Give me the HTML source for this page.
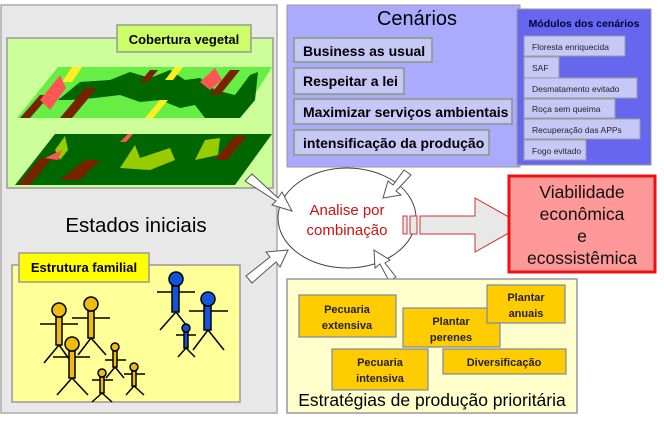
<!DOCTYPE html>
<html><head><meta charset="utf-8"><style>
body{margin:0;width:664px;height:417px;background:#fff;overflow:hidden;font-family:"Liberation Sans",sans-serif;}
</style></head><body>
<svg width="664" height="417" viewBox="0 0 664 417" xmlns="http://www.w3.org/2000/svg" font-family="Liberation Sans, sans-serif">
<rect x="1" y="5" width="276" height="408" fill="#e8e8e8" stroke="#aaa" stroke-width="1.5"/>
<rect x="7" y="38" width="266" height="150" fill="#ccff99" stroke="#999" stroke-width="1.5"/>
<polygon points="17,118 58,67 272,67 240,118" fill="#66ee44"/>
<path d="M58,100 L80,82 L110,80 L130,72 L150,78 L170,70 L185,80 L200,78 L215,90 L235,95 L250,75 L258,72 L255,100 L240,118 L205,118 L195,105 L180,108 L160,100 L140,102 L120,95 L95,98 L70,100 Z" fill="#006600"/>
<polygon points="20,118 40,95 50,95 30,118" fill="#772200"/>
<polygon points="60,118 85,88 97,88 72,118" fill="#772200"/>
<polygon points="140,82 150,70 158,70 148,82" fill="#772200"/>
<polygon points="210,95 230,70 240,70 220,95" fill="#772200"/>
<polygon points="62,82 72,67 82,67 72,82" fill="#ffee22"/>
<polygon points="145,118 160,100 168,100 153,118" fill="#ffee22"/>
<polygon points="165,80 175,67 183,67 173,80" fill="#ffee22"/>
<polygon points="40,100 60,75 66,88 50,110" fill="#ff5555"/>
<polygon points="200,82 215,68 222,80 210,90" fill="#ff5555"/>
<polygon points="15,185 55,134 272,134 235,185" fill="#006600"/>
<path d="M120,168 L135,145 L140,158 L170,148 L175,160 L150,170 Z" fill="#99cc00"/>
<path d="M55,150 L65,136 L68,150 L60,160 Z" fill="#99cc00"/>
<path d="M195,160 L205,140 L220,138 L218,155 Z" fill="#99cc00"/>
<polygon points="18,185 40,158 52,158 30,185" fill="#772200"/>
<polygon points="60,180 85,160 100,160 80,180" fill="#772200"/>
<polygon points="215,160 235,136 247,136 227,160" fill="#772200"/>
<polygon points="45,158 62,150 58,160" fill="#ff5555"/>
<polygon points="120,142 128,134 133,134 126,142" fill="#ff5555"/>
<rect x="117" y="25" width="134" height="27" fill="#ccff66" stroke="#999" stroke-width="1.5"/>
<text x="184" y="44" font-size="13" font-weight="bold" text-anchor="middle">Cobertura vegetal</text>
<text x="136" y="232" font-size="20.5" text-anchor="middle">Estados iniciais</text>
<rect x="12" y="265" width="228" height="137" fill="#ffff99" stroke="#999" stroke-width="1.5"/>
<rect x="19" y="253" width="130" height="29" fill="#ffff00" stroke="#999" stroke-width="1.5"/>
<text x="84" y="272" font-size="13" font-weight="bold" text-anchor="middle">Estrutura familial</text>
<g stroke="#000" stroke-width="1.5">
<g fill="#eebb11">
<line x1="59" y1="345" x2="44" y2="363"/><line x1="59" y1="345" x2="72" y2="363"/><line x1="40" y1="324" x2="78" y2="324"/><rect x="56" y="317" width="6" height="28"/><circle cx="59" cy="310" r="7"/>
<line x1="91" y1="338" x2="78" y2="355"/><line x1="91" y1="338" x2="106" y2="355"/><line x1="72" y1="318" x2="110" y2="318"/><rect x="88" y="311" width="6" height="27"/><circle cx="91" cy="304" r="7"/>
<line x1="72" y1="378" x2="57" y2="395"/><line x1="72" y1="378" x2="88" y2="395"/><line x1="53" y1="357" x2="90" y2="357"/><rect x="69" y="351" width="6" height="27"/><circle cx="72" cy="344" r="7"/>
<line x1="115" y1="367" x2="106" y2="378"/><line x1="115" y1="367" x2="124" y2="378"/><line x1="105" y1="360" x2="126" y2="360"/><rect x="113" y="351" width="4" height="16"/><circle cx="115" cy="347" r="4"/>
<line x1="102" y1="393" x2="92" y2="402"/><line x1="102" y1="393" x2="112" y2="402"/><line x1="92" y1="380" x2="113" y2="380"/><rect x="100" y="377" width="4" height="16"/><circle cx="102" cy="373" r="4"/>
<line x1="134" y1="386" x2="126" y2="395"/><line x1="134" y1="386" x2="144" y2="395"/><line x1="124" y1="374" x2="145" y2="374"/><rect x="132" y="371" width="4" height="15"/><circle cx="134" cy="367" r="4"/>
</g>
<g fill="#1155dd">
<line x1="176" y1="312" x2="160" y2="330"/><line x1="176" y1="312" x2="190" y2="330"/><line x1="157" y1="292" x2="195" y2="292"/><rect x="172" y="286" width="7" height="26"/><circle cx="176" cy="279" r="7"/>
<line x1="208" y1="330" x2="193" y2="350"/><line x1="208" y1="330" x2="224" y2="350"/><line x1="189" y1="311" x2="228" y2="311"/><rect x="204" y="306" width="7" height="24"/><circle cx="208" cy="299" r="7"/>
<line x1="186" y1="348" x2="178" y2="357"/><line x1="186" y1="348" x2="195" y2="357"/><line x1="176" y1="335" x2="196" y2="335"/><rect x="184" y="332" width="4" height="16"/><circle cx="186" cy="328" r="4"/>
</g></g>
<rect x="287" y="5" width="233" height="162" fill="#aaaaff" stroke="#999" stroke-width="1"/>
<text x="417" y="25" font-size="20" text-anchor="middle">Cenários</text>
<g fill="#c8c8f8" stroke="#889977" stroke-width="1.5">
<rect x="294" y="38" width="138" height="24"/><rect x="294" y="68" width="110" height="26"/><rect x="294" y="99" width="218" height="25"/><rect x="294" y="130" width="195" height="25"/>
</g>
<g font-size="14" font-weight="bold">
<text x="303" y="56">Business as usual</text><text x="303" y="86">Respeitar a lei</text><text x="303" y="117">Maximizar serviços ambientais</text><text x="303" y="148">intensificação da produção</text>
</g>
<rect x="517" y="9" width="134" height="156" fill="#6666ee" stroke="#999" stroke-width="1"/>
<text x="584" y="27" font-size="10.5" font-weight="bold" fill="#000033" text-anchor="middle">Módulos dos cenários</text>
<g fill="#c8c8f8" stroke="#999" stroke-width="1">
<rect x="524" y="36" width="101" height="20"/><rect x="524" y="57" width="35" height="21"/><rect x="524" y="78" width="113" height="20"/><rect x="524" y="99" width="91" height="19"/><rect x="524" y="119" width="116" height="20"/><rect x="524" y="140" width="62" height="20"/>
</g>
<g font-size="8.5" fill="#222">
<text x="532" y="50">Floresta enriquecida</text><text x="532" y="71">SAF</text><text x="532" y="92">Desmatamento evitado</text><text x="532" y="112">Roça sem queima</text><text x="532" y="133">Recuperação das APPs</text><text x="532" y="154">Fogo evitado</text>
</g>
<ellipse cx="347" cy="218" rx="69" ry="50" fill="#fff" stroke="#444" stroke-width="1"/>
<text x="347" y="215" font-size="15" fill="#cc1111" text-anchor="middle">Analise por</text>
<text x="347" y="235" font-size="15" fill="#cc1111" text-anchor="middle">combinação</text>
<g fill="#fff" stroke="#555" stroke-width="1">
<polygon points="245,181 252,174 278,198 282,192 292,211 272,205 276,201"/>
<polygon points="404,170 411,175 396,191 401,195 383,198 388,181 393,185"/>
<polygon points="252,283 246,276 270,257 266,252 288,250 280,267 276,262"/>
<polygon points="396,277 389,281 380,264 375,268 374,250 390,260 385,263"/>
</g>
<g fill="#e8e8e8" stroke="#cc3333" stroke-width="1">
<rect x="403" y="216" width="4" height="18"/><rect x="410" y="216" width="7" height="18"/>
<polygon points="420,216 475,216 475,198 523,225 475,252 475,234 420,234"/>
</g>
<rect x="509" y="176" width="146" height="96" fill="#ff9999" stroke="#ee1111" stroke-width="3"/>
<g font-size="17.5" text-anchor="middle" fill="#111">
<text x="582" y="198">Viabilidade</text><text x="582" y="220">econômica</text><text x="582" y="242">e</text><text x="582" y="264">ecossistêmica</text>
</g>
<rect x="287" y="279" width="290" height="134" fill="#ffffcc" stroke="#999" stroke-width="1.5"/>
<g fill="#ffcc00" stroke="#7788aa" stroke-width="1.2">
<rect x="299" y="295" width="97" height="42"/><rect x="403" y="308" width="97" height="39"/><rect x="487" y="285" width="78" height="38"/><rect x="332" y="349" width="96" height="41"/><rect x="443" y="349" width="123" height="25"/>
</g>
<g font-size="11" font-weight="bold" text-anchor="middle" fill="#222">
<text x="347" y="313">Pecuaria</text><text x="347" y="329">extensiva</text>
<text x="451" y="325">Plantar</text><text x="451" y="341">perenes</text>
<text x="526" y="301">Plantar</text><text x="526" y="317">anuais</text>
<text x="380" y="366">Pecuaria</text><text x="380" y="382">intensiva</text>
<text x="504" y="366">Diversificação</text>
</g>
<text x="432" y="406" font-size="17.5" text-anchor="middle">Estratégias de produção prioritária</text>
</svg>
</body></html>
